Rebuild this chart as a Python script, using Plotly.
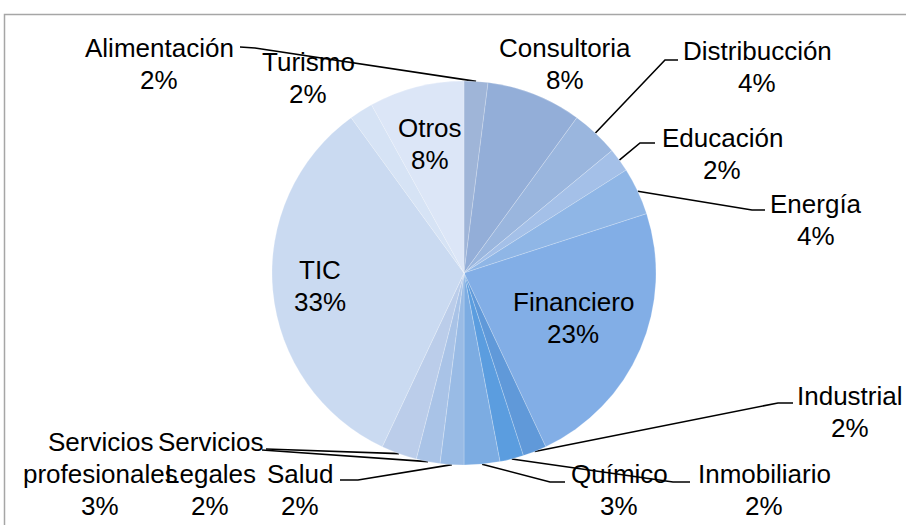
import numpy as np
import plotly.graph_objects as go

# datos (sentido horario desde las 12)
sectores = ['Alimentación', 'Consultoria', 'Distribucción', 'Educación', 'Energía',
            'Financiero', 'Industrial', 'Inmobiliario', 'Químico', 'Salud',
            'Servicios Legales', 'Servicios profesionales', 'TIC', 'Turismo', 'Otros']
porcentajes = [2, 8, 4, 2, 4, 23, 2, 2, 3, 2, 2, 3, 33, 2, 8]
lineas_etiqueta = [['Alimentación'], ['Consultoria'], ['Distribucción'], ['Educación'], ['Energía'],
                   ['Financiero'], ['Industrial'], ['Inmobiliario'], ['Químico'], ['Salud'],
                   ['Servicios', 'Legales'], ['Servicios', 'profesionales'], ['TIC'], ['Turismo'], ['Otros']]

colores = ['#9fb5d8', '#93aed8', '#9ab6de', '#a4c0e8', '#8fb6e6',
           '#82aee6', '#6099d9', '#5b9ddf', '#7cace2', '#99bbe5',
           '#a9c3e7', '#bbcdea', '#cadaf1', '#d6e3f5', '#dce6f7']

W, H = 906, 525
cx, cy, r = 464, 273, 192
ESP = 32  # separación entre líneas de texto

# centro x de la etiqueta, y de la primera línea
pos_etiqueta = {
    'Alimentación': (159, 48), 'Turismo': (308, 62), 'Consultoria': (565, 48),
    'Distribucción': (757, 51), 'Educación': (722, 138), 'Energía': (816, 204),
    'Otros': (430, 128), 'TIC': (320, 270), 'Financiero': (573, 302),
    'Industrial': (850, 396), 'Inmobiliario': (764, 474), 'Químico': (619, 474),
    'Salud': (300, 474), 'Servicios Legales': (210, 442),
    'Servicios profesionales': (100, 442),
}
guias = {
    'Alimentación': [(255, 48), (240, 47)],
    'Distribucción': [(665, 60), (678, 60)],
    'Educación': [(640, 143), (655, 143)],
    'Energía': [(752, 210), (765, 210)],
    'Industrial': [(778, 403), (793, 403)],
    'Inmobiliario': [(673, 482), (690, 482)],
    'Químico': [(550, 482), (565, 482)],
    'Salud': [(358, 480), (340, 480)],
    'Servicios Legales': [(272, 450), (262, 450)],
    'Servicios profesionales': [(283, 449), (266, 449)],
}

fig = go.Figure()

# guías: desde el punto medio del arco de cada sector
total = sum(porcentajes)
acum = np.cumsum([0] + porcentajes[:-1])
lx, ly = [], []
for s, v, a in zip(sectores, porcentajes, acum):
    if s not in guias:
        continue
    ang = 2 * np.pi * (a + v / 2) / total
    px, py = cx + r * np.sin(ang), cy - r * np.cos(ang)
    pts = [(px, py)] + guias[s]
    lx += [p[0] for p in pts] + [None]
    ly += [p[1] for p in pts] + [None]

fig.add_trace(go.Scatter(x=lx, y=ly, mode='lines', line=dict(color='black', width=1.6),
                         hoverinfo='skip', showlegend=False))

fig.add_trace(go.Pie(
    labels=sectores, values=porcentajes, sort=False, direction='clockwise', rotation=0,
    marker=dict(colors=colores, line=dict(color='rgba(255,255,255,0.35)', width=0.6)),
    textinfo='none', hoverinfo='label+percent', showlegend=False,
    domain=dict(x=[(cx - r) / W, (cx + r) / W], y=[(H - cy - r) / H, (H - cy + r) / H]),
))

for s, lineas, v in zip(sectores, lineas_etiqueta, porcentajes):
    x, y = pos_etiqueta[s]
    for i, t in enumerate(lineas + [f'{v}%']):
        fig.add_annotation(x=x, y=y + i * ESP, xref='x', yref='y', text=t,
                           showarrow=False, xanchor='center', yanchor='middle',
                           font=dict(size=26, color='black', family='Liberation Sans, Arial'))

# marco del gráfico
fig.add_shape(type='rect', xref='x', yref='y', x0=4.5, y0=14.5, x1=W + 10, y1=H + 10,
              line=dict(color='#a6a6a6', width=1.5), layer='below')

fig.update_layout(
    width=W, height=H, margin=dict(l=0, r=0, t=0, b=0),
    paper_bgcolor='white', plot_bgcolor='white',
    xaxis=dict(range=[0, W], visible=False, fixedrange=True),
    yaxis=dict(range=[H, 0], visible=False, fixedrange=True),
)

# quitar el margen por defecto del body para que la figura empiece en (0, 0)
fig.write_html('out.html', config={'displayModeBar': False},
               post_script="document.body.style.margin='0';")
